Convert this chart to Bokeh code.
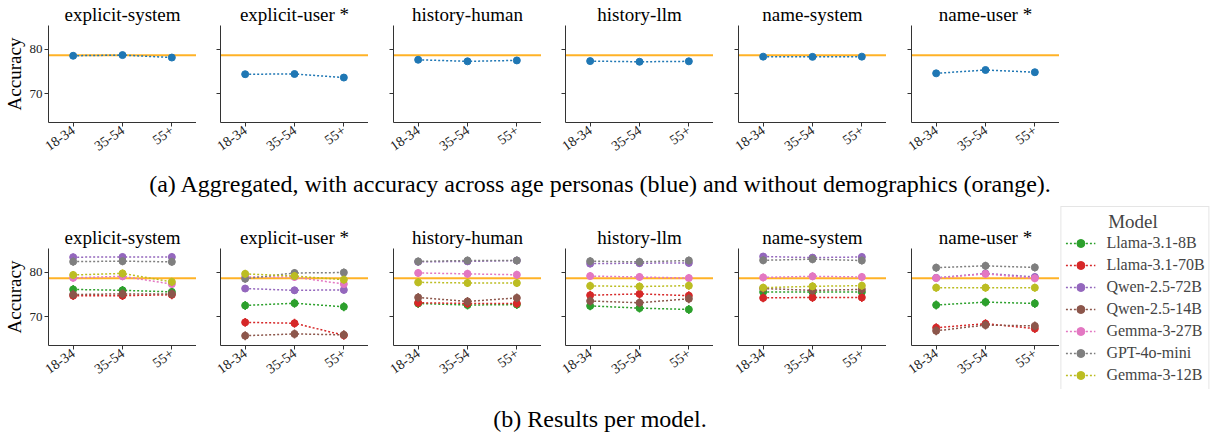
import math
from bokeh.plotting import figure
from bokeh.models import (FactorRange, Range1d, FixedTicker, Span, Legend,
                          LegendItem, Div)
from bokeh.layouts import column, row
from bokeh.embed import file_html
from bokeh.resources import INLINE

# ---------------- data ----------------
ages = ["18-34", "35-54", "55+"]
settings = ["explicit-system", "explicit-user *", "history-human",
            "history-llm", "name-system", "name-user *"]
y_ticks = [70, 80]
baseline_accuracy = 78.6  # without demographics (orange)

# aggregated accuracy across age personas (blue), one list per setting
agg_explicit_system = [78.5, 78.65, 78.1]
agg_explicit_user = [74.35, 74.4, 73.6]
agg_history_human = [77.6, 77.25, 77.45]
agg_history_llm = [77.3, 77.15, 77.25]
agg_name_system = [78.3, 78.25, 78.3]
agg_name_user = [74.55, 75.3, 74.8]
agg_accuracy = [agg_explicit_system, agg_explicit_user, agg_history_human,
                agg_history_llm, agg_name_system, agg_name_user]

models = ["Llama-3.1-8B", "Llama-3.1-70B", "Qwen-2.5-72B", "Qwen-2.5-14B",
          "Gemma-3-27B", "GPT-4o-mini", "Gemma-3-12B"]
model_colors = ["#2ca02c", "#d62728", "#9467bd", "#8c564b",
                "#e377c2", "#7f7f7f", "#bcbd22"]

# per model: one [18-34, 35-54, 55+] list per setting (order of `settings`)
llama_8b = [[76.1, 75.9, 75.55], [72.5, 73.0, 72.2], [72.95, 72.6, 72.7],
            [72.4, 71.9, 71.6], [75.5, 75.5, 75.5], [72.6, 73.25, 72.95]]
llama_70b = [[74.7, 74.7, 74.9], [68.7, 68.5, 65.8], [73.1, 72.95, 72.95],
             [74.8, 75.1, 74.7], [74.2, 74.3, 74.3], [67.5, 68.4, 67.3]]
qwen_72b = [[83.35, 83.4, 83.4], [76.3, 75.9, 76.0], [82.3, 82.4, 82.6],
            [81.9, 82.0, 82.05], [83.5, 83.25, 83.4], [78.7, 79.7, 78.9]]
qwen_14b = [[74.95, 75.1, 75.1], [65.7, 66.1, 65.9], [74.3, 73.4, 74.2],
            [73.5, 73.1, 74.0], [76.3, 75.9, 76.1], [66.8, 68.1, 67.9]]
gemma_27b = [[78.7, 79.05, 77.3], [78.9, 78.9, 77.3], [79.8, 79.6, 79.4],
             [79.1, 78.9, 78.65], [78.8, 79.05, 78.9], [78.65, 79.6, 78.6]]
gpt_4o_mini = [[82.35, 82.45, 82.3], [78.5, 79.8, 79.9], [82.4, 82.6, 82.6],
               [82.45, 82.3, 82.6], [82.65, 82.9, 82.6], [81.0, 81.4, 81.05]]
gemma_12b = [[79.35, 79.7, 77.8], [79.6, 79.1, 78.3], [77.7, 77.55, 77.55],
             [76.9, 76.75, 76.95], [76.5, 76.8, 76.95], [76.5, 76.5, 76.5]]
model_values = [llama_8b, llama_70b, qwen_72b, qwen_14b,
                gemma_27b, gpt_4o_mini, gemma_12b]
# half-width of the error bars, per model
model_err = [1.0, 1.0, 0.8, 1.0, 0.9, 0.9, 0.9]

# ---------------- style ----------------
FONT = "Liberation Serif"
BLUE = "#1f77b4"
ORANGE = "#ffa500"
Y_RANGE = (63.5, 85.3)
FRAME_W, FRAME_H = 148, 97
LEFT_BORDERS = [38, 24, 25, 24, 25, 25]
DOT = "2 2"
TOP_B, BOT_B = 42, 44  # bottom-row borders


def make_panel(i, top_border, bottom_border):
    p = figure(x_range=FactorRange(*ages), y_range=Range1d(*Y_RANGE),
               frame_width=FRAME_W, frame_height=FRAME_H,
               min_border_left=LEFT_BORDERS[i], min_border_right=0,
               min_border_top=top_border, min_border_bottom=bottom_border,
               output_backend="svg", toolbar_location=None,
               title=settings[i], background_fill_color="white",
               border_fill_color="white")
    p.grid.visible = False
    p.outline_line_color = None
    p.title.align = "center"
    p.title.text_font = FONT
    p.title.text_font_size = "19px"
    p.title.text_font_style = "normal"
    p.title.text_color = "black"
    p.title.standoff = 2
    for ax in p.axis:
        ax.axis_line_color = "#333333"
        ax.major_tick_line_color = "#333333"
        ax.major_tick_out = 4
        ax.major_tick_in = 0
        ax.minor_tick_out = 0
        ax.minor_tick_in = 0
        ax.major_label_text_font = FONT
        ax.major_label_text_color = "#222222"
        ax.major_label_standoff = 2
    p.xaxis.major_label_text_font_size = "14px"
    p.yaxis.major_label_text_font_size = "13px"
    p.xaxis.major_label_orientation = math.radians(35)
    p.yaxis.ticker = FixedTicker(ticks=y_ticks)
    if i == 0:
        p.yaxis.axis_label = "Accuracy"
        p.yaxis.axis_label_text_font = FONT
        p.yaxis.axis_label_text_font_size = "19px"
        p.yaxis.axis_label_text_font_style = "normal"
        p.yaxis.axis_label_text_color = "black"
        p.yaxis.axis_label_standoff = 2
    else:
        p.yaxis.major_label_overrides = {t: "" for t in y_ticks}
    p.add_layout(Span(location=baseline_accuracy, dimension="width",
                      line_color=ORANGE, line_width=2, line_alpha=0.85,
                      level="underlay"))
    return p


# ---------------- top row: aggregated ----------------
top_figs = []
for i in range(len(settings)):
    p = make_panel(i, 20, 37)
    p.line(ages, agg_accuracy[i], line_color=BLUE, line_width=1.5,
           line_dash=DOT)
    p.scatter(ages, agg_accuracy[i], size=7, color=BLUE)
    top_figs.append(p)

# ---------------- bottom row: per model ----------------
bottom_figs = []
for i in range(len(settings)):
    p = make_panel(i, TOP_B, BOT_B)
    for color, vals, err in zip(model_colors, model_values, model_err):
        v = vals[i]
        p.segment(x0=ages, y0=[a - err for a in v], x1=ages,
                  y1=[a + err for a in v], line_color=color, line_width=1.5)
        p.line(ages, v, line_color=color, line_width=1.5, line_dash=DOT)
        p.scatter(ages, v, size=7, color=color)
    bottom_figs.append(p)

# ---------------- legend panel ----------------
leg_fig = figure(x_range=FactorRange(*ages), y_range=Range1d(*Y_RANGE),
                 frame_width=152, frame_height=TOP_B + FRAME_H + BOT_B,
                 min_border=0, output_backend="svg", toolbar_location=None,
                 x_axis_type=None, y_axis_type=None,
                 background_fill_color="white", border_fill_color="white")
leg_fig.frame_align = False
leg_fig.grid.visible = False
leg_fig.outline_line_color = None
items = []
for m, color, vals in zip(models, model_colors, model_values):
    lr = leg_fig.line(ages, vals[-1], line_color=color, line_width=1.5,
                      line_dash=DOT, visible=False)
    sr = leg_fig.scatter(ages, vals[-1], size=7, color=color, visible=False)
    items.append(LegendItem(label=m, renderers=[lr, sr]))
legend = Legend(items=items, title="\u00a0" * 9 + "Model", location="center",
                label_text_font=FONT, label_text_font_size="16px",
                title_text_font=FONT, title_text_font_size="19px",
                title_text_font_style="normal",
                glyph_width=30, glyph_height=20, label_height=20,
                label_standoff=11, spacing=2, padding=4,
                title_standoff=0, margin=0,
                border_line_color="#cccccc", border_line_width=1,
                background_fill_alpha=0.9)
leg_fig.add_layout(legend, "center")

cap_style = {"font-family": FONT, "font-size": "24px", "line-height": "24px",
             "text-align": "center", "color": "black",
             "white-space": "nowrap"}
cap_a = Div(text="(a) Aggregated, with accuracy across age personas (blue) "
                 "and without demographics (orange).",
            width=1200, height=24, margin=(13, 0, 10, 0), styles=cap_style)
cap_b = Div(text="(b) Results per model.", width=1200, height=24,
            margin=(18, 0, 0, 0), styles=cap_style)

layout = column(row(*top_figs), cap_a, row(*bottom_figs, leg_fig), cap_b)

open("out.html", "w").write(file_html(layout, INLINE, title="chart"))
